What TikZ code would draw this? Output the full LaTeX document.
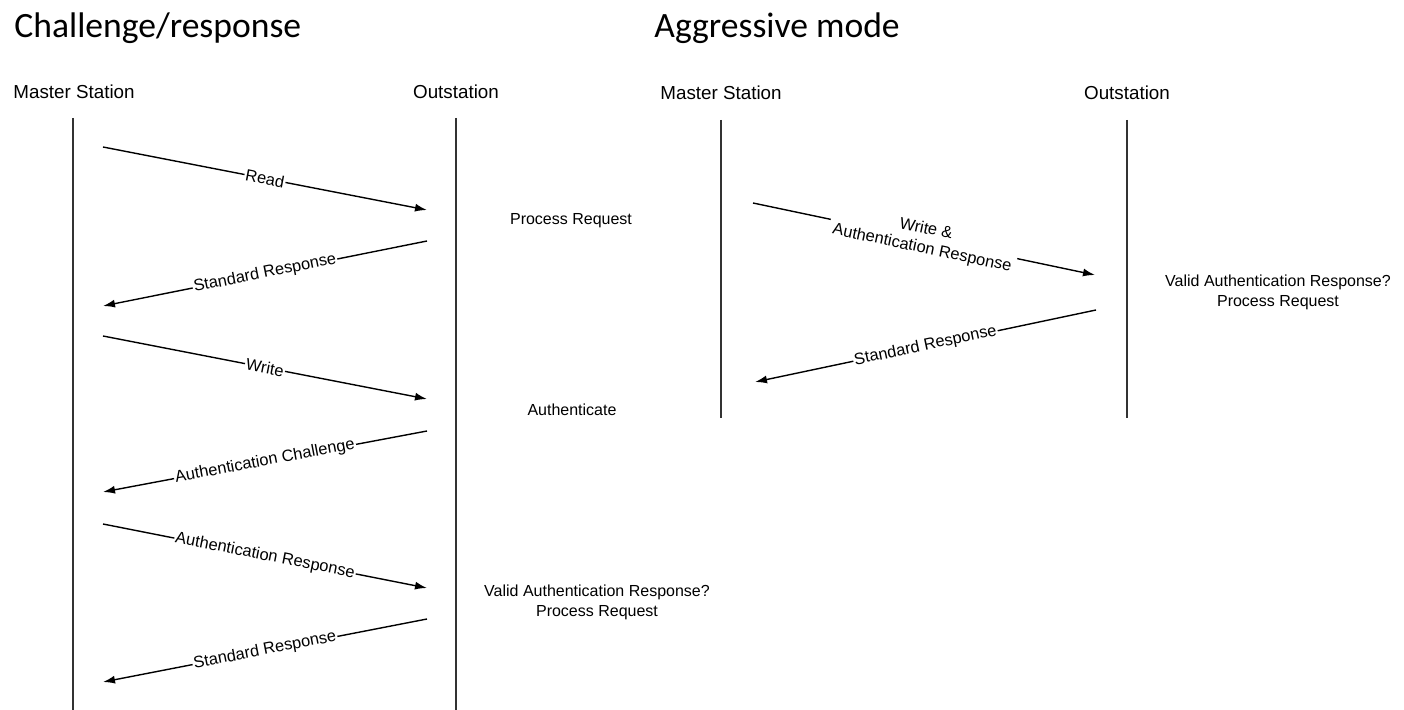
\documentclass[tikz,border=0pt]{standalone}
\usepackage{fontspec}
\setmainfont{Liberation Sans}
\newfontfamily\titlefont{Carlito}
\usetikzlibrary{arrows.meta}

\begin{document}
\begin{tikzpicture}[x=0.5pt,y=-0.5pt,
  lifeline/.style={line width=1.2pt, draw=black!80},
  msg/.style={line width=0.7pt, -{Latex[length=6pt,width=4pt]}},
  msglabel/.style={midway, sloped, fill=white, inner sep=0.6pt,
                   font=\fontsize{8.2}{9.5}\selectfont, align=center},
  actor/.style={anchor=base, inner sep=0pt, font=\fontsize{9.4}{11}\selectfont},
  note/.style={font=\fontsize{8}{10}\selectfont, align=center, inner sep=0pt},
  heading/.style={anchor=base west, inner sep=0pt,
                  font=\titlefont\fontsize{17.8}{20}\selectfont}]
\useasboundingbox (0,0) rectangle (1404,710);

% ---------- headings ----------
\node[heading] (hcr) at (14,38) {Challenge/response};
\node[heading] (hag) at (654,38) {Aggressive mode};

% ---------- challenge/response: actors and lifelines ----------
\node[actor] (m1) at (74,99) {Master Station};
\node[actor] (o1) at (456,99) {Outstation};
\coordinate (m1top) at (73,118);  \coordinate (m1bot) at (73,710);
\coordinate (o1top) at (456,118); \coordinate (o1bot) at (456,710);
\draw[lifeline] (m1top) -- (m1bot);
\draw[lifeline] (o1top) -- (o1bot);

% message end points
\coordinate (r1a) at (103,147); \coordinate (r1b) at (427,210);
\coordinate (s1a) at (427,241); \coordinate (s1b) at (103,306);
\coordinate (w1a) at (103,336); \coordinate (w1b) at (427,399);
\coordinate (c1a) at (427,431); \coordinate (c1b) at (103,492);
\coordinate (a1a) at (103,524); \coordinate (a1b) at (427,588);
\coordinate (s2a) at (427,619); \coordinate (s2b) at (103,682);

\draw[msg] (r1a) -- (r1b) node[msglabel] (lr1) {Read};
\draw[msg] (s1a) -- (s1b) node[msglabel] (ls1) {Standard Response};
\draw[msg] (w1a) -- (w1b) node[msglabel] (lw1) {Write};
\draw[msg] (c1a) -- (c1b) node[msglabel] (lc1) {Authentication Challenge};
\draw[msg] (a1a) -- (a1b) node[msglabel] (la1) {Authentication Response};
\draw[msg] (s2a) -- (s2b) node[msglabel] (ls2) {Standard Response};

\node[note] (n1) at (571,221) {Process Request};
\node[note] (n2) at (572,410) {Authenticate};
\node[note] (n3) at (597,602) {Valid Authentication Response?\\Process Request};

% ---------- aggressive mode: actors and lifelines ----------
\node[actor] (m2) at (721,100) {Master Station};
\node[actor] (o2) at (1127,100) {Outstation};
\coordinate (m2top) at (721,120);  \coordinate (m2bot) at (721,418);
\coordinate (o2top) at (1127,120); \coordinate (o2bot) at (1127,418);
\draw[lifeline] (m2top) -- (m2bot);
\draw[lifeline] (o2top) -- (o2bot);

\coordinate (wa) at (753,203);  \coordinate (wb) at (1095,275);
\coordinate (sa) at (1096,310); \coordinate (sb) at (755,382);

\draw[msg] (wa) -- (wb)
  node[msglabel, inner sep=2pt, font=\fontsize{8.2}{9.8}\selectfont] (lw2)
  {Write \&\\Authentication Response};
\draw[msg] (sa) -- (sb) node[msglabel] (ls3) {Standard Response};

\node[note] (n4) at (1278,292) {Valid Authentication Response?\\Process Request};
\end{tikzpicture}
\end{document}
